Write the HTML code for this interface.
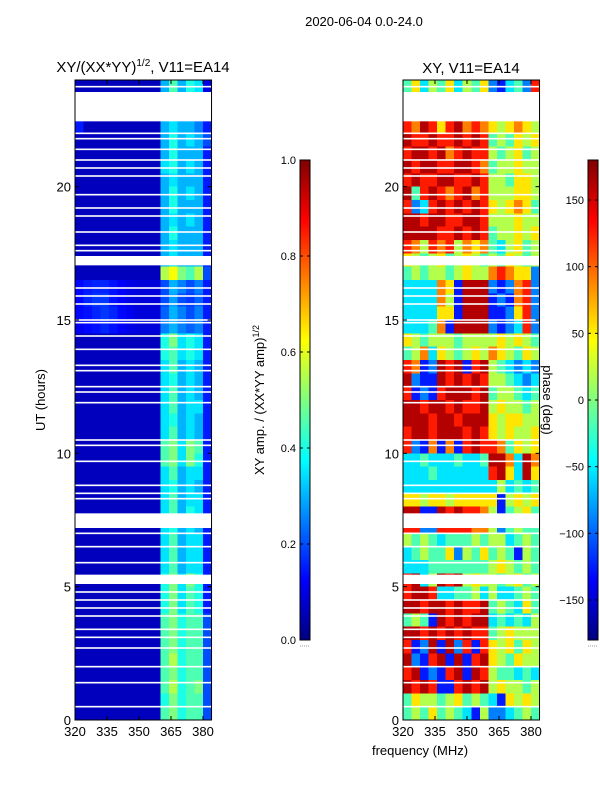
<!DOCTYPE html>
<html><head><meta charset="utf-8"><style>
body{margin:0;background:#fff;width:600px;height:800px;overflow:hidden;font-family:"Liberation Sans",sans-serif}
svg text{font-family:"Liberation Sans","DejaVu Sans",sans-serif;fill:#000}
</style></head><body>
<svg id="fig" width="600" height="800" viewBox="0 0 600 800" xmlns="http://www.w3.org/2000/svg">
<defs>
<linearGradient id="jet" x1="0" y1="1" x2="0" y2="0">
<stop offset="0" stop-color="#000080"/><stop offset="0.125" stop-color="#0000ff"/><stop offset="0.375" stop-color="#00ffff"/><stop offset="0.625" stop-color="#ffff00"/><stop offset="0.875" stop-color="#ff0000"/><stop offset="1" stop-color="#800000"/>
</linearGradient>
</defs>
<text x="364" y="26" font-size="13" text-anchor="middle">2020-06-04 0.0-24.0</text>
<text x="143" y="72" font-size="15" text-anchor="middle">XY/(XX*YY)<tspan font-size="10" dy="-6">1/2</tspan><tspan dy="6">, V11=EA14</tspan></text>
<text x="471" y="73" font-size="15" text-anchor="middle">XY, V11=EA14</text>
<text x="45" y="400" font-size="13" text-anchor="middle" transform="rotate(-90 45 400)">UT (hours)</text>
<text x="420" y="755" font-size="13" text-anchor="middle">frequency (MHz)</text>
<text x="264" y="400" font-size="13" text-anchor="middle" transform="rotate(-90 264 400)">XY amp. / (XX*YY amp)<tspan font-size="9" dy="-5">1/2</tspan></text>
<text x="543" y="400" font-size="13" text-anchor="middle" transform="rotate(90 543 400)">phase (deg)</text>
<g id="left"></g><g id="right"></g><g id="cbars"></g>
</svg>
<script>
const freqEdges=[320,324,328,332,336,340,344,348,352,356,360,364,368,372,376,380,384];
const xTicks=[320,335,350,365,380];
const yTicks=[0,5,10,15,20];
const ampTicks=[0.0,0.2,0.4,0.6,0.8,1.0];
const phaseTicks=[-150,-100,-50,0,50,100,150];
const gapBands=[[22.45,23.55],[7.2,7.75],[17.05,17.4],[5.1,5.45]];
const gapLines=[23.75,22.0,21.8,21.4,21.0,20.7,20.4,19.7,19.2,18.9,18.3,17.8,17.6,16.2,15.9,15.6,15.0,14.9,14.4,13.9,13.3,13.1,12.5,12.3,11.9,10.5,10.3,9.7,8.8,8.5,8.3,7.0,6.5,5.9,4.8,4.5,4.2,3.9,3.4,3.1,2.7,2.0,1.4,0.5];
const ampRows=[
[.06,.06,.06,.06,.06,.06,.06,.06,.06,.06,.3,.45,.3,.4,.35,.1],
[.06,.06,.06,.06,.06,.06,.06,.06,.06,.06,.3,.4,.3,.35,.3,.1],
[.06,.06,.06,.06,.06,.06,.06,.06,.06,.06,.3,.4,.3,.35,.3,.1],
[.15,.06,.06,.06,.06,.06,.06,.06,.06,.06,.3,.35,.3,.3,.25,.15],
[.06,.06,.06,.06,.06,.06,.06,.06,.06,.06,.3,.4,.3,.35,.3,.2],
[.06,.06,.06,.06,.06,.06,.06,.06,.06,.06,.3,.4,.3,.3,.3,.15],
[.06,.06,.06,.06,.06,.06,.06,.06,.06,.06,.35,.4,.3,.35,.3,.15],
[.06,.06,.06,.06,.06,.06,.06,.06,.06,.06,.3,.35,.3,.3,.3,.15],
[.06,.06,.06,.06,.06,.06,.06,.06,.06,.06,.3,.4,.3,.35,.3,.15],
[.06,.06,.06,.06,.06,.06,.06,.06,.06,.06,.3,.4,.3,.3,.3,.15],
[.06,.06,.06,.06,.06,.06,.06,.06,.06,.06,.3,.35,.3,.35,.3,.15],
[.06,.06,.06,.06,.06,.06,.06,.06,.06,.06,.3,.4,.3,.3,.3,.15],
[.06,.06,.06,.06,.06,.06,.06,.06,.06,.06,.3,.35,.3,.3,.3,.15],
[.06,.06,.06,.06,.06,.06,.06,.06,.06,.06,.3,.35,.3,.3,.3,.15],
[.06,.06,.06,.06,.06,.06,.06,.06,.06,.06,.55,.62,.5,.45,.55,.2],
[.13,.15,.16,.16,.14,.12,.1,.09,.09,.09,.2,.3,.25,.2,.25,.15],
[.13,.16,.18,.18,.14,.12,.1,.09,.09,.09,.2,.28,.2,.18,.22,.15],
[.13,.14,.16,.18,.16,.13,.11,.09,.09,.09,.22,.3,.25,.2,.25,.15],
[.11,.13,.14,.16,.14,.12,.1,.09,.09,.09,.25,.3,.25,.22,.25,.15],
[.06,.06,.06,.06,.06,.06,.06,.06,.06,.06,.4,.5,.35,.4,.35,.15],
[.06,.06,.06,.06,.06,.06,.06,.06,.06,.06,.4,.45,.35,.4,.35,.15],
[.06,.06,.06,.06,.06,.06,.06,.06,.06,.06,.35,.45,.3,.35,.3,.15],
[.06,.06,.06,.06,.06,.06,.06,.06,.06,.06,.35,.4,.3,.35,.3,.15],
[.06,.06,.06,.06,.06,.06,.06,.06,.06,.06,.35,.45,.3,.35,.3,.15],
[.06,.06,.06,.06,.06,.06,.06,.06,.06,.06,.35,.45,.3,.35,.35,.15],
[.06,.06,.06,.06,.06,.06,.06,.06,.06,.06,.35,.4,.3,.35,.3,.15],
[.06,.06,.06,.06,.06,.06,.06,.06,.06,.06,.35,.45,.3,.35,.3,.15],
[.06,.06,.06,.06,.06,.06,.06,.06,.06,.06,.45,.5,.35,.5,.45,.15],
[.06,.06,.06,.06,.06,.06,.06,.06,.06,.06,.45,.5,.35,.5,.4,.15],
[.06,.06,.06,.06,.06,.06,.06,.06,.06,.06,.35,.45,.3,.35,.35,.15],
[.06,.06,.06,.06,.06,.06,.06,.06,.06,.06,.35,.4,.3,.35,.3,.15],
[.06,.06,.06,.06,.06,.06,.06,.06,.06,.06,.35,.45,.3,.35,.35,.15],
[.06,.06,.06,.06,.06,.06,.06,.06,.06,.06,.35,.45,.3,.4,.35,.15],
[.06,.06,.06,.06,.06,.06,.06,.06,.06,.06,.35,.4,.3,.35,.3,.15],
[.06,.06,.06,.06,.06,.06,.06,.06,.06,.06,.35,.45,.3,.35,.35,.15],
[.06,.06,.06,.06,.06,.06,.06,.06,.06,.06,.35,.45,.3,.35,.35,.15],
[.06,.06,.06,.06,.06,.06,.06,.06,.06,.06,.35,.45,.3,.35,.35,.15],
[.06,.06,.06,.06,.06,.06,.06,.06,.06,.06,.4,.5,.35,.5,.4,.15],
[.06,.06,.06,.06,.06,.06,.06,.06,.06,.06,.4,.5,.35,.45,.4,.15],
[.06,.06,.06,.06,.06,.06,.06,.06,.06,.06,.4,.5,.35,.45,.4,.15],
[.06,.06,.06,.06,.06,.06,.06,.06,.06,.06,.45,.5,.4,.45,.45,.2],
[.06,.06,.06,.06,.06,.06,.06,.06,.06,.06,.45,.5,.4,.45,.45,.2],
[.06,.06,.06,.06,.06,.06,.06,.06,.06,.06,.45,.5,.4,.45,.45,.2],
[.06,.06,.06,.06,.06,.06,.06,.06,.06,.06,.45,.55,.4,.45,.45,.2],
[.06,.06,.06,.06,.06,.06,.06,.06,.06,.06,.45,.5,.4,.45,.45,.2],
[.06,.06,.06,.06,.06,.06,.06,.06,.06,.06,.45,.55,.4,.45,.5,.2],
[.06,.06,.06,.06,.06,.06,.06,.06,.06,.06,.4,.5,.4,.45,.45,.2],
[.06,.06,.06,.06,.06,.06,.06,.06,.06,.06,.45,.5,.4,.45,.45,.2]
];
const phaseRows=[
[-18,54,-54,18,-18,54,-54,18,-18,54,-90,-126,-54,-18,-90,126],
[126,90,162,126,54,126,162,90,126,90,54,18,54,90,54,18],
[126,90,162,126,54,126,162,90,126,90,54,18,54,90,54,18],
[126,90,162,126,54,126,162,90,126,90,54,18,54,90,54,18],
[162,126,126,162,126,126,162,126,162,126,-18,18,-18,54,18,54],
[126,162,162,126,162,90,126,162,126,126,18,-18,18,54,-18,18],
[162,126,162,162,126,126,162,162,126,90,-18,18,18,54,18,18],
[126,162,126,126,162,162,126,126,162,126,18,18,-18,54,54,18],
[162,-18,126,162,126,90,126,162,90,126,18,18,18,54,54,18],
[126,-90,-54,126,162,126,162,126,162,126,54,18,54,90,54,-18],
[162,162,126,162,162,126,126,162,162,126,18,18,18,54,18,18],
[162,162,162,162,126,126,162,126,162,126,-18,18,18,54,18,54],
[126,90,18,126,90,126,18,90,54,90,-18,-54,18,54,-18,18],
[54,18,-18,18,54,-18,18,54,18,-18,18,-18,54,18,-18,18],
[-18,18,-18,18,18,-18,18,54,18,18,90,126,90,54,54,-90],
[-54,-54,-54,-54,90,54,-126,162,162,162,-90,-126,-90,90,126,-90],
[-54,-54,-54,-54,90,18,-126,162,162,162,-126,-90,-126,90,126,-90],
[-54,-54,-54,-54,54,54,-126,162,162,162,-126,-126,-90,54,126,-90],
[-54,-54,-54,-18,90,-126,162,162,162,162,-90,-126,-90,-54,126,-90],
[54,18,-18,18,18,18,-18,18,18,18,18,54,18,54,18,-18],
[-18,18,90,-54,54,18,-18,18,54,18,90,54,18,-18,54,18],
[126,90,-126,-90,162,126,162,-126,126,162,18,-18,-54,-90,-54,-90],
[162,-90,-126,-126,162,126,162,126,162,126,18,18,-18,-54,-90,-54],
[126,-126,-90,-126,126,162,162,162,126,162,-18,18,18,-18,-54,-18],
[162,162,126,162,162,126,162,126,126,162,18,54,18,18,-18,18],
[162,162,162,126,162,162,126,162,162,162,54,18,54,54,18,18],
[126,162,162,126,162,162,162,126,162,126,54,18,54,18,18,54],
[126,-90,-126,90,-126,90,-126,126,162,126,126,90,-18,54,18,54],
[-54,-54,-18,-54,-54,-54,-18,-54,-54,-18,162,162,90,-54,162,90],
[-54,-54,-54,-18,-54,-54,-54,-54,-54,-54,126,162,54,-54,162,54],
[-54,-54,-54,-54,-54,-54,-54,-54,-54,-54,-54,18,-54,-18,-54,-18],
[54,54,18,54,54,18,54,54,54,54,54,-126,18,54,18,54],
[162,162,-126,-126,162,126,162,126,126,90,18,-126,-18,18,54,-18],
[126,126,-90,-90,126,126,126,126,90,90,18,-90,-18,18,-18,-18],
[18,-18,18,-18,-54,-18,-18,-18,18,-18,18,18,-54,-18,18,-18],
[-54,-18,18,-18,-18,54,-90,18,-18,54,-18,18,-18,-126,18,-18],
[-54,-54,-54,-18,-18,-18,-18,-18,-18,-18,18,54,18,-18,18,-18],
[126,162,-54,18,162,126,162,18,54,18,18,-18,18,54,-18,18],
[126,162,162,126,-54,-54,-18,-18,18,-54,18,-54,-54,-18,18,-18],
[162,162,126,162,162,126,162,126,126,162,-18,18,-18,-54,54,-18],
[-18,18,-18,-126,162,126,162,126,162,162,-54,-18,-54,-18,-54,18],
[162,162,126,162,126,162,126,162,126,126,-18,18,54,18,18,18],
[126,-126,-90,162,-126,162,-90,126,-126,126,54,18,54,-18,54,18],
[162,-90,-126,126,162,-126,162,-126,126,162,54,18,-18,54,18,18],
[126,162,-126,-90,-126,126,162,-126,162,126,18,-18,-18,-54,-18,-54],
[162,126,162,126,-126,-126,126,162,126,162,18,54,18,18,-18,18],
[-18,54,18,18,-18,18,54,-18,18,-18,-54,-126,54,18,54,18],
[-18,18,-18,54,-18,18,-18,-54,-126,18,-90,-90,-54,-18,18,-18]
];
const NS='http://www.w3.org/2000/svg';
function jet(v){v=Math.max(0,Math.min(1,v));
 const f=(a)=>Math.max(0,Math.min(1,a));
 const r=f(Math.min(4*v-1.5,-4*v+4.5)),g=f(Math.min(4*v-0.5,-4*v+3.5)),b=f(Math.min(4*v+0.5,-4*v+2.5));
 return 'rgb('+Math.round(r*255)+','+Math.round(g*255)+','+Math.round(b*255)+')';}
function mk(tag,attrs,parent){const e=document.createElementNS(NS,tag);for(const k in attrs)e.setAttribute(k,attrs[k]);parent.appendChild(e);return e;}
const Y0=720,Y1=80;
function yScale(h){return Y0-(h/24)*(Y0-Y1);}
function makePanel(gid,x0,rows,norm,name){
 const g=document.getElementById(gid);
 const xScale=(f)=>x0+(f-320)*(128/60);
 const right=xScale(384);
 const n=rows.length,dh=24/n;
 rows.forEach((row,i)=>{
  const hTop=24-i*dh,hBot=hTop-dh;
  row.forEach((v,j)=>{
   if(v===null)return;
   const r=mk('rect',{x:xScale(freqEdges[j]),y:yScale(hTop),width:xScale(freqEdges[j+1])-xScale(freqEdges[j])+0.3,height:yScale(hBot)-yScale(hTop)+0.3,fill:jet(norm(v)),'shape-rendering':'crispEdges'},g);
   
   
  });
 });
 gapBands.forEach(b=>{const r=mk('rect',{x:x0,y:yScale(b[1]),width:right-x0,height:yScale(b[0])-yScale(b[1]),fill:'#fff'},g);
  
  });
 gapLines.forEach(h=>{const r=mk('rect',{x:x0,y:yScale(h)-0.8,width:right-x0,height:1.6,fill:'#fff'},g);
  
  });
 const fr=mk('rect',{x:x0,y:Y1,width:right-x0,height:Y0-Y1,fill:'none',stroke:'#000','stroke-width':1},g);
 
 
 xTicks.forEach(t=>{const x=xScale(t);
  mk('line',{x1:x,x2:x,y1:Y0,y2:Y0-4,stroke:'#000'},g);mk('line',{x1:x,x2:x,y1:Y1,y2:Y1+4,stroke:'#000'},g);
  const tx=mk('text',{x:x,y:Y0+16,'font-size':13,'text-anchor':'middle'},g);tx.textContent=t;
  
  });
 yTicks.forEach(t=>{const y=yScale(t);
  mk('line',{x1:x0,x2:x0+4,y1:y,y2:y,stroke:'#000'},g);mk('line',{x1:right,x2:right-4,y1:y,y2:y,stroke:'#000'},g);
  const tx=mk('text',{x:x0-4,y:y+5,'font-size':13,'text-anchor':'end'},g);tx.textContent=t;
  
  });
}
makePanel('left',75,ampRows,v=>v,'amp-heatmap');
makePanel('right',403,phaseRows,v=>(v+180)/360,'phase-heatmap');
function makeCbar(x,ticks,lo,hi,name,fmt){
 const g=document.getElementById('cbars');const top=160,bot=640;
 const r=mk('rect',{x:x,y:top,width:10,height:bot-top,fill:'url(#jet)',stroke:'#000','stroke-width':1},g);
 
 
 ticks.forEach(t=>{const y=bot-(t-lo)/(hi-lo)*(bot-top);
  mk('line',{x1:x,x2:x+3,y1:y,y2:y,stroke:'#000'},g);mk('line',{x1:x+10,x2:x+7,y1:y,y2:y,stroke:'#000'},g);
  const tx=mk('text',{x:x-4,y:y+4,'font-size':11,'text-anchor':'end'},g);tx.textContent=fmt(t);
  
  });
 const d=mk('line',{x1:x,x2:x+10,y1:bot+6,y2:bot+6,stroke:'#999','stroke-dasharray':'1 1'},g);
 
 
}
makeCbar(300,ampTicks,0,1,'amp-colorbar',t=>t.toFixed(1));
makeCbar(588,phaseTicks,-180,180,'phase-colorbar',t=>t<0?'\u2212'+(-t):''+t);
</script>
</body></html>
